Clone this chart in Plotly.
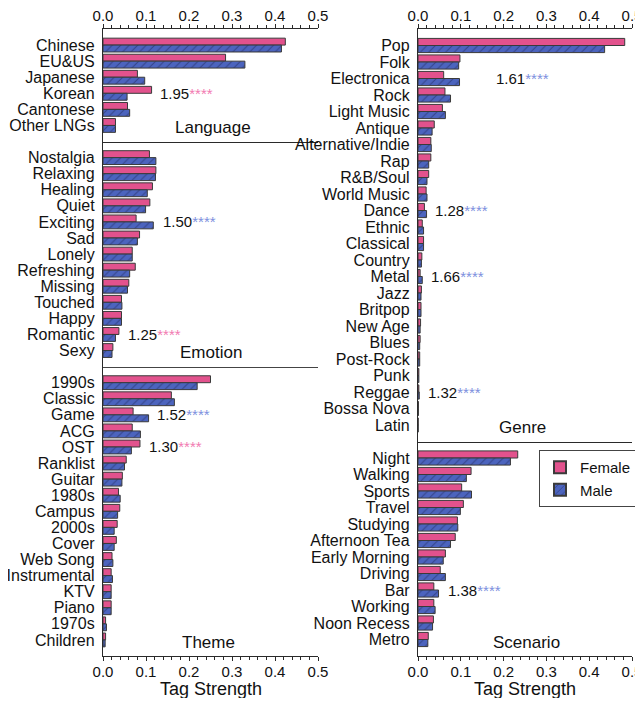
import plotly.graph_objects as go

# ---------------- data ----------------
lang_cats = ["Chinese", "EU&US", "Japanese", "Korean", "Cantonese", "Other LNGs"]
lang_female = [0.424, 0.285, 0.080, 0.113, 0.057, 0.029]
lang_male = [0.415, 0.330, 0.097, 0.056, 0.062, 0.029]

emo_cats = ["Nostalgia", "Relaxing", "Healing", "Quiet", "Exciting", "Sad", "Lonely",
            "Refreshing", "Missing", "Touched", "Happy", "Romantic", "Sexy"]
emo_female = [0.108, 0.123, 0.115, 0.109, 0.077, 0.085, 0.068, 0.075, 0.060, 0.043, 0.043, 0.037, 0.023]
emo_male = [0.123, 0.122, 0.103, 0.099, 0.117, 0.080, 0.068, 0.062, 0.057, 0.044, 0.043, 0.029, 0.021]

theme_cats = ["1990s", "Classic", "Game", "ACG", "OST", "Ranklist", "Guitar", "1980s", "Campus",
              "2000s", "Cover", "Web Song", "Instrumental", "KTV", "Piano", "1970s", "Children"]
theme_female = [0.250, 0.159, 0.070, 0.068, 0.086, 0.054, 0.045, 0.036, 0.039,
                0.033, 0.031, 0.021, 0.019, 0.019, 0.019, 0.006, 0.006]
theme_male = [0.219, 0.166, 0.106, 0.087, 0.066, 0.050, 0.044, 0.040, 0.034,
              0.026, 0.026, 0.023, 0.022, 0.019, 0.019, 0.008, 0.005]

genre_cats = ["Pop", "Folk", "Electronica", "Rock", "Light Music", "Antique", "Alternative/Indie",
              "Rap", "R&B/Soul", "World Music", "Dance", "Ethnic", "Classical", "Country", "Metal",
              "Jazz", "Britpop", "New Age", "Blues", "Post-Rock", "Punk", "Reggae", "Bossa Nova", "Latin"]
genre_female = [0.483, 0.098, 0.060, 0.063, 0.057, 0.038, 0.030, 0.030, 0.025, 0.019, 0.015, 0.010,
                0.013, 0.009, 0.005, 0.008, 0.007, 0.006, 0.005, 0.004, 0.002, 0.002, 0.001, 0.0005]
genre_male = [0.436, 0.095, 0.097, 0.076, 0.064, 0.033, 0.031, 0.025, 0.021, 0.021, 0.020, 0.013,
              0.013, 0.008, 0.010, 0.007, 0.007, 0.005, 0.004, 0.004, 0.002, 0.003, 0.001, 0.0005]

scen_cats = ["Night", "Walking", "Sports", "Travel", "Studying", "Afternoon Tea", "Early Morning",
             "Driving", "Bar", "Working", "Noon Recess", "Metro"]
scen_female = [0.233, 0.124, 0.102, 0.106, 0.092, 0.087, 0.064, 0.052, 0.037, 0.037, 0.036, 0.024]
scen_male = [0.216, 0.113, 0.125, 0.099, 0.093, 0.076, 0.059, 0.064, 0.048, 0.040, 0.034, 0.023]

panel_titles = ["Language", "Emotion", "Theme", "Genre", "Scenario"]
x_title = "Tag Strength"

# significance labels: (panel index, category, text x-position, ratio, higher group)
sig_panel = [0, 1, 1, 2, 2, 3, 3, 3, 3, 4]
sig_cat = ["Korean", "Exciting", "Romantic", "Game", "OST", "Electronica", "Dance", "Metal", "Reggae", "Bar"]
sig_xpos = [0.127, 0.136, 0.053, 0.122, 0.103, 0.178, 0.035, 0.025, 0.018, 0.066]
sig_ratio = ["1.95", "1.50", "1.25", "1.52", "1.30", "1.61", "1.28", "1.66", "1.32", "1.38"]
sig_group = ["F", "M", "F", "M", "F", "M", "M", "M", "M", "M"]

# ---------------- style ----------------
FONT = "Liberation Sans, Arial, sans-serif"
PINK = "#E2528D"
BLUE = "#4C64BE"
HATCH = "#1E2556"
EDGE = "#3A3A3A"
AX = "#2a2a2a"
SEP = "#444444"
STAR_PINK = "#F27BB2"
STAR_BLUE = "#7E90DE"

# the page body adds an 8px margin, so the figure is sized/offset to compensate
W, H = 635, 690
ML, MR, MT, MB = 95, 11, 21, 42
PW = W - ML - MR
PH = H - MT - MB

panels = [
    (lang_cats, lang_female, lang_male),
    (emo_cats, emo_female, emo_male),
    (theme_cats, theme_female, theme_male),
    (genre_cats, genre_female, genre_male),
    (scen_cats, scen_female, scen_male),
]
columns = [[0, 1, 2], [3, 4]]
xdom_left = [0, 215 / PW]
xdom_right = [315 / PW, 1.0]

fig = go.Figure()
layout = {}

# y domains proportional to n+1 category units
ydoms = {}
for col in columns:
    units = [len(panels[i][0]) + 1 for i in col]
    tot = sum(units)
    top = 1.0
    for i, u in zip(col, units):
        bottom = top - u / tot
        ydoms[i] = [max(bottom, 0.0), top]
        top = bottom

for i, (cats, fv, mv) in enumerate(panels):
    sfx = "" if i == 0 else str(i + 1)
    xa, ya = "x" + sfx, "y" + sfx
    first = i == 0
    fig.add_trace(go.Bar(
        y=cats, x=fv, orientation="h", name="Female", xaxis=xa, yaxis=ya,
        marker=dict(color=PINK, line=dict(color=EDGE, width=1)),
        legendgroup="F", showlegend=first, offsetgroup="F"))
    fig.add_trace(go.Bar(
        y=cats, x=mv, orientation="h", name="Male", xaxis=xa, yaxis=ya,
        marker=dict(color=BLUE, line=dict(color=EDGE, width=1),
                    pattern=dict(shape="/", fgcolor=HATCH, bgcolor=BLUE, size=6, solidity=0.18)),
        legendgroup="M", showlegend=first, offsetgroup="M"))

    left_col = i in columns[0]
    is_top = i in (0, 3)
    is_bottom = i in (2, 4)
    xaxis = dict(
        domain=xdom_left if left_col else xdom_right,
        anchor=ya, range=[0, 0.5], showgrid=False, zeroline=False, automargin=False,
        tickfont=dict(family=FONT, size=15, color="#111"),
    )
    if is_top or is_bottom:
        xaxis.update(
            side="top" if is_top else "bottom",
            showline=True, linecolor=AX, linewidth=1.3, mirror=is_top,
            tickmode="linear", tick0=0, dtick=0.1, tickformat=".1f",
            ticks="outside", ticklen=4, tickwidth=1.2, tickcolor=AX,
            ticklabelstandoff=-3 if is_top else -2,
            minor=dict(dtick=0.02, ticks="outside", ticklen=2.5, tickwidth=1, tickcolor=AX),
        )
    else:
        xaxis.update(side="bottom", showline=True, linecolor=SEP, linewidth=1.3,
                     showticklabels=False, ticks="")
    layout["xaxis" + sfx] = xaxis

    n = len(cats)
    layout["yaxis" + sfx] = dict(
        domain=ydoms[i], anchor=xa, type="category",
        categoryorder="array", categoryarray=cats, range=[n, -1],
        tickmode="array", tickvals=cats, ticktext=cats,
        showgrid=False, zeroline=False, showline=True, linecolor=AX, linewidth=1.3,
        ticks="", ticklabelstandoff=4, automargin=False,
        tickfont=dict(family=FONT, size=16, color="#111"),
    )

annotations = []
title_pos = [(0.51, 0.124), (0.50, 0.062), (0.49, 0.045), (0.486, 0.033), (0.505, 0.061)]
for i, t in enumerate(panel_titles):
    sfx = "" if i == 0 else str(i + 1)
    annotations.append(dict(
        text=t, xref="x" + sfx + " domain", yref="y" + sfx + " domain",
        x=title_pos[i][0], y=title_pos[i][1], xanchor="center", yanchor="middle",
        showarrow=False, font=dict(family=FONT, size=17, color="#111")))

# x-axis titles under both columns
for sfx in ("3", "5"):
    annotations.append(dict(
        text=x_title, xref="x" + sfx + " domain", yref="paper",
        x=0.5, y=-33 / PH, xanchor="center", yanchor="middle",
        showarrow=False, font=dict(family=FONT, size=18, color="#111")))

for p, c, xp, r, g in zip(sig_panel, sig_cat, sig_xpos, sig_ratio, sig_group):
    sfx = "" if p == 0 else str(p + 1)
    col = STAR_PINK if g == "F" else STAR_BLUE
    annotations.append(dict(
        text=f"{r}<span style='color:{col}'>****</span>",
        xref="x" + sfx, yref="y" + sfx, x=xp, y=c, xanchor="left", yanchor="middle",
        showarrow=False, font=dict(family=FONT, size=15, color="#111")))

fig.update_layout(
    **layout,
    annotations=annotations,
    width=W, height=H,
    margin=dict(l=ML, r=MR, t=MT, b=MB, autoexpand=False),
    paper_bgcolor="white", plot_bgcolor="white",
    barmode="group", bargap=0.14, bargroupgap=0.0,
    font=dict(family=FONT, color="#111"),
    legend=dict(
        x=436 / PW, y=206 / PH, xanchor="left", yanchor="top",
        bgcolor="white", bordercolor="#444", borderwidth=1,
        font=dict(family=FONT, size=15, color="#111"),
        traceorder="normal", itemsizing="constant",
        tracegroupgap=0,
    ),
)

fig.write_html("out.html")
